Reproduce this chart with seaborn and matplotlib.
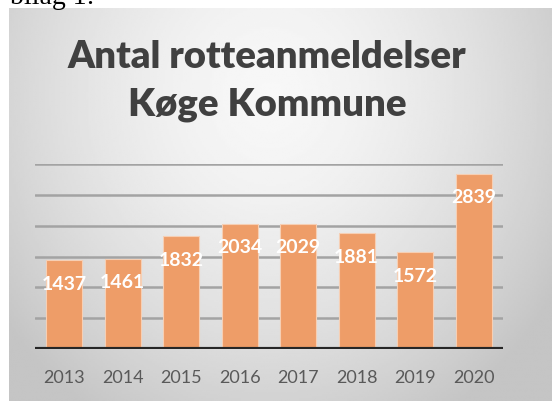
import numpy as np
import pandas as pd
import matplotlib
matplotlib.use("Agg")
import matplotlib.pyplot as plt
import seaborn as sns

years = ["2013", "2014", "2015", "2016", "2017", "2018", "2019", "2020"]
counts = [1437, 1461, 1832, 2034, 2029, 1881, 1572, 2839]
title_lines = ["Antal rotteanmeldelser", "Køge Kommune"]
y_gridlines = [500, 1000, 1500, 2000, 2500, 3000]

df = pd.DataFrame({"year": years, "count": counts})

sns.set_style("white")
plt.rcParams["font.family"] = ["Lato", "DejaVu Sans"]

W, H = 552, 401
fig = plt.figure(figsize=(W / 100, H / 100), dpi=100)
fig.patch.set_facecolor("white")

# gradient background of chart box
bg = fig.add_axes([9 / W, 0, (W - 9) / W, (H - 8) / H])
ny, nx = 200, 280
yy, xx = np.mgrid[0:ny, 0:nx]
cx, cy = nx * 0.48, ny * 0.22
r = np.sqrt(((xx - cx) / (nx * 0.62)) ** 2 + ((yy - cy) / (ny * 0.95)) ** 2)
val = np.clip(0.97 - 0.2 * r ** 1.6, 0.77, 0.97)
bg.imshow(val, cmap="gray", vmin=0, vmax=1, aspect="auto", interpolation="bilinear")
bg.set_axis_off()

# bilag text, mostly cut off at the top (as in the reference)
fig.text(10 / W, 1 - 4 / H, "bilag 1:", fontsize=20, family="Liberation Serif",
         color="black", va="baseline", ha="left")

ax = fig.add_axes([35 / W, 1 - 349 / H, 468 / W, 185 / H])
ax.set_facecolor("none")
sns.barplot(data=df, x="year", y="count", color="#EE9D68", saturation=1,
            width=0.61, ax=ax, edgecolor="#F6CFB4", linewidth=0.8, zorder=3)
ax.set_xlim(-0.5, len(years) - 0.5)
ax.set_ylim(0, 3000)
for g in y_gridlines:
    ax.axhline(g, color="#A3A3A3", lw=1.8, zorder=1)
ax.axhline(0, color="#262626", lw=3, zorder=4)
for s in ax.spines.values():
    s.set_visible(False)
ax.set_yticks([])
ax.set_xlabel("")
ax.set_ylabel("")
ax.tick_params(axis="x", length=0, pad=15, labelsize=13, labelcolor="#595959")

for i, v in enumerate(df["count"]):
    ax.annotate(str(v), (i, v), xytext=(0, -24), textcoords="offset pixels",
                ha="center", va="center", color="white", fontsize=14,
                fontweight="bold", zorder=5)

fig.text(267 / W, 1 - 57 / H, title_lines[0], ha="center", va="center",
         fontsize=27.5, fontweight="heavy", color="#404040")
fig.text(267 / W, 1 - 105 / H, title_lines[1], ha="center", va="center",
         fontsize=27.5, fontweight="heavy", color="#404040")

fig.savefig("out.png", dpi=100)
